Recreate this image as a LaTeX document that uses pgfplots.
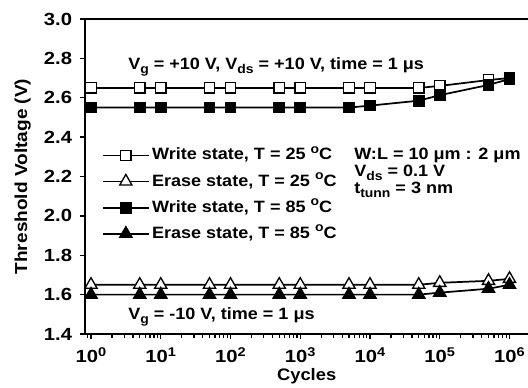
\documentclass[border=0pt]{standalone}
\usepackage{fontspec}
\setmainfont{Liberation Sans}[FakeStretch=1.1]
\newfontfamily\tickfont{Liberation Sans}[FakeStretch=1.15]
\usepackage{pgfplots}
\pgfplotsset{compat=1.18}
\newcommand{\sub}[1]{\raisebox{-0.5ex}{\fontsize{9.5}{10}\selectfont #1}}
\newcommand{\supr}[1]{\raisebox{0.75ex}{\fontsize{9.5}{10}\selectfont #1}}
\pgfplotstableread{
x      w25   e25   w85    e85
1      2.65  1.65  2.55   1.60
5      2.65  1.65  2.55   1.60
10     2.65  1.65  2.55   1.60
50     2.65  1.65  2.55   1.60
100    2.65  1.65  2.55   1.60
500    2.65  1.65  2.55   1.60
1000   2.65  1.65  2.55   1.60
5000   2.65  1.65  2.55   1.60
10000  2.65  1.65  2.56   1.60
50000  2.65  1.65  2.585  1.60
100000 2.66  1.66  2.613  1.61
500000 2.69  1.67  2.665  1.63
1000000 2.70 1.68  2.695  1.65
}\data
\begin{document}
\begin{tikzpicture}[font=\fontsize{12.3}{14}\selectfont\bfseries]
\useasboundingbox (0,0) rectangle (396pt,291pt);
\clip (0,0) rectangle (396pt,291pt);
\begin{axis}[
  at={(63.75pt,40.5pt)}, anchor=south west,
  scale only axis, width=339.3pt, height=236.25pt,
  xmode=log, xmin=0.820, xmax=2511886,
  ymin=1.4, ymax=3.0,
  xtick={1,10,100,1000,10000,100000,1000000},
  xticklabels={10\supr{0},10\supr{1},10\supr{2},10\supr{3},10\supr{4},10\supr{5},10\supr{6}},
  minor xtick={0.9,2,3,4,5,6,7,8,9,20,30,40,50,60,70,80,90,200,300,400,500,600,700,800,900,2000,3000,4000,5000,6000,7000,8000,9000,20000,30000,40000,50000,60000,70000,80000,90000,200000,300000,400000,500000,600000,700000,800000,900000,2000000},
  ytick={1.4,1.6,1.8,2.0,2.2,2.4,2.6,2.8,3.0},
  yticklabels={1.4,1.6,1.8,2.0,2.2,2.4,2.6,2.8,3.0},
  xtick pos=bottom, ytick pos=left, tick align=outside,
  major tick length=3.5pt, minor tick length=3pt,
  axis line style={line width=1.2pt},
  every tick/.style={black, line width=1pt},
  xticklabel style={font=\tickfont\fontsize{13.2}{14}\selectfont\bfseries, anchor=base, inner sep=0pt, yshift=-18.25pt},
  yticklabel style={font=\tickfont\fontsize{13.2}{14}\selectfont\bfseries, anchor=east, inner sep=0pt, xshift=-6pt},
  xlabel={Cycles},
  xlabel style={font=\fontsize{12.5}{14}\selectfont\bfseries, at={(axis description cs:0.49,-0.149)}, anchor=base},
  ylabel={Threshold Voltage (V)},
  ylabel style={font=\fontsize{13}{14}\selectfont\bfseries, at={(axis description cs:-0.128,0.5)}, anchor=base},
  legend style={at={(axis cs:1.44,2.352)}, anchor=north west, draw=none, fill=none,
    inner sep=0pt, row sep=6.8pt, column sep=2pt,
    nodes={inner sep=0pt, text height=9.8pt, text depth=3pt}},
  legend cell align=left,
  legend image code/.code={\draw[mark repeat=2,mark phase=2,#1] plot coordinates {(0pt,0pt) (17pt,0pt) (34pt,0pt)};},
]
\addplot[black, line width=1.3pt, mark=square*, mark size=3.9pt, mark options={fill=white, line width=1pt}] table[x=x,y=w25] {\data};
\addlegendentry{Write state, T = 25 \supr{o}C}
\addplot[black, line width=1.3pt, mark=triangle*, mark size=5.3pt, mark options={fill=white, line width=1pt}] table[x=x,y=e25] {\data};
\addlegendentry{Erase state, T = 25 \supr{o}C}
\addplot[black, line width=1.3pt, mark=square*, mark size=3.9pt, mark options={fill=black, line width=1pt}] table[x=x,y=w85] {\data};
\addlegendentry{Write state, T = 85 \supr{o}C}
\addplot[black, line width=1.3pt, mark=triangle*, mark size=5.3pt, mark options={fill=black, line width=1pt}] table[x=x,y=e85] {\data};
\addlegendentry{Erase state, T = 85 \supr{o}C}
\node[anchor=base west, inner sep=0pt] at (axis cs:3.39,2.745) {V\sub{g} = +10 V, V\sub{ds} = +10 V, time = 1 μs};
\node[anchor=base west, inner sep=0pt] at (axis cs:3.39,1.475) {V\sub{g} = -10 V, time = 1 μs};
\node[anchor=base west, inner sep=0pt] at (axis cs:5900,2.2878) {W:L = 10 μm : 2 μm};
\node[anchor=base west, inner sep=0pt] at (axis cs:5900,2.1995) {V\sub{ds} = 0.1 V};
\node[anchor=base west, inner sep=0pt] at (axis cs:5900,2.1132) {t\sub{tunn} = 3 nm};
\end{axis}
\end{tikzpicture}
\end{document}
